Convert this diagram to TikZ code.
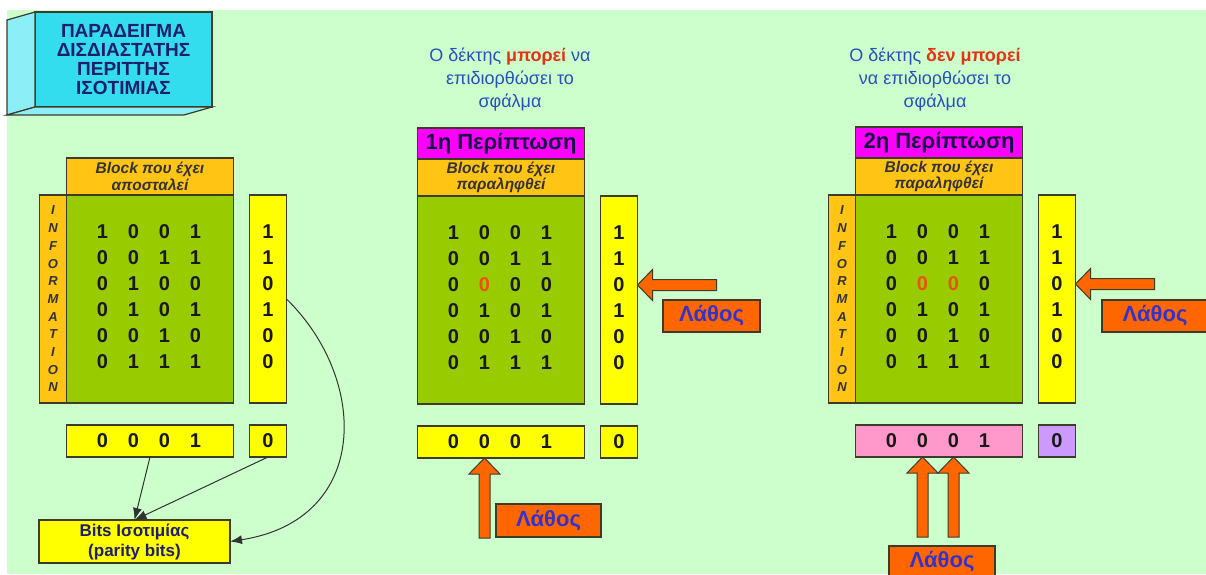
\documentclass[tikz,border=0pt]{standalone}
\usepackage{fontspec}
\setmainfont{Liberation Sans}
\usetikzlibrary{positioning,arrows.meta}

% colours
\definecolor{bggreen}{RGB}{204,255,204}
\definecolor{cubefront}{RGB}{51,221,238}
\definecolor{cubeside}{RGB}{140,238,246}
\definecolor{hdrorange}{RGB}{255,196,20}
\definecolor{gridgreen}{RGB}{153,204,0}
\definecolor{paryellow}{RGB}{255,255,0}
\definecolor{casemag}{RGB}{255,0,255}
\definecolor{errorange}{RGB}{255,102,0}
\definecolor{errblue}{RGB}{51,51,204}
\definecolor{msgblue}{RGB}{40,80,190}
\definecolor{msgred}{RGB}{230,50,20}
\definecolor{badbit}{RGB}{235,80,20}
\definecolor{rowpink}{RGB}{255,153,204}
\definecolor{cornlav}{RGB}{204,153,255}
\definecolor{edge}{RGB}{60,60,40}
\definecolor{navy}{RGB}{30,30,110}
\definecolor{ink}{RGB}{25,25,25}

\newcommand{\flip}[1]{\textcolor{badbit}{#1}}

\tikzset{
  box/.style={draw=edge,line width=1.2pt,outer sep=0pt,inner sep=0pt},
  blockhdr/.style={box,fill=hdrorange,minimum width=167pt,minimum height=37pt,
    align=center,text=black!80,font=\bfseries\itshape\fontsize{15.5}{16.5}\selectfont},
  casehdr/.style={box,fill=casemag,minimum width=167pt,minimum height=31pt,
    text=navy!60!black,font=\bfseries\fontsize{22}{24}\selectfont},
  bitgrid/.style={box,fill=gridgreen,minimum width=167pt,minimum height=208pt},
  parcol/.style={box,fill=paryellow,minimum width=37pt,minimum height=208pt},
  inforbar/.style={box,fill=hdrorange,minimum width=27pt,minimum height=208pt,
    align=center,text=black!80,font=\bfseries\itshape\fontsize{13}{17.7}\selectfont},
  parrow/.style={box,fill=paryellow,minimum width=167pt,minimum height=32pt},
  parbit/.style={box,fill=paryellow,minimum width=37pt,minimum height=32pt,
    text=ink,font=\bfseries\fontsize{20}{20}\selectfont},
  digit/.style={inner sep=0pt,text=ink,font=\bfseries\fontsize{20}{20}\selectfont},
  errbox/.style={box,fill=errorange,minimum width=97pt,minimum height=32pt,
    text=errblue,font=\bfseries\fontsize{22}{24}\selectfont},
  blockarrow/.style={draw=edge,line width=1pt,fill=errorange},
  message/.style={align=center,text=msgblue,font=\fontsize{18}{23}\selectfont},
  link/.style={draw=black!80,line width=1pt,->}
}

\begin{document}
\begin{tikzpicture}[x=1pt,y=-1pt,>={Latex[length=12pt,width=9pt]}]
\useasboundingbox (0,0) rectangle (1206,574);
\fill[white] (0,0) rectangle (1206,574);
\fill[bggreen] (7,10) rectangle (1206,574);

% title cube
\node[box,fill=cubefront,minimum width=177pt,minimum height=95pt,align=center,
  text=navy,font=\bfseries\fontsize{19}{19}\selectfont] (title) at (123.5,59.5)
  {ΠΑΡΑΔΕΙΓΜΑ\\ΔΙΣΔΙΑΣΤΑΤΗΣ\\ΠΕΡΙΤΤΗΣ\\ΙΣΟΤΙΜΙΑΣ};
\draw[box,fill=cubeside] (title.north west) -- ++(-28,8) -- ++(0,95) -- (title.south west) -- cycle;
\draw[box,fill=cubeside] (title.south west) -- ++(-28,8) -- ++(177,0) -- (title.south east) -- cycle;

% sent block
\node[bitgrid] (gridA) at (150,299) {};
\node[blockhdr,above=0pt of gridA] (hdrA) {Block που έχει\\αποσταλεί};
\node[inforbar,left=0pt of gridA] (infoA) {I\\N\\F\\O\\R\\M\\A\\T\\I\\O\\N};
\node[parcol,right=16pt of gridA] (parA) {};
\node[parrow,below=22pt of gridA] (rowA) {};
\node[parbit,below=22pt of parA] (cornerA) {0};
\node[box,fill=paryellow,minimum width=191pt,minimum height=43pt,align=center,
  text=navy,font=\bfseries\fontsize{17}{20}\selectfont] (bitsA) at (134.5,541.5)
  {Bits Ισοτιμίας\\(parity bits)};

% case 1
\node[message] (msgB) at (510,80)
  {Ο δέκτης \textcolor{msgred}{\textbf{μπορεί}} να\\επιδιορθώσει το\\σφάλμα};
\node[bitgrid] (gridB) at (501,300) {};
\node[blockhdr,above=0pt of gridB] (hdrB) {Block που έχει\\παραληφθεί};
\node[casehdr,above=0pt of hdrB] (caseB) {1η Περίπτωση};
\node[parcol,right=16pt of gridB] (parB) {};
\node[parrow,below=22pt of gridB] (rowB) {};
\node[parbit,below=22pt of parB] (cornerB) {0};

% case 2
\node[message] (msgC) at (935,80)
  {Ο δέκτης \textcolor{msgred}{\textbf{δεν μπορεί}}\\να επιδιορθώσει το\\σφάλμα};
\node[bitgrid] (gridC) at (939,299) {};
\node[blockhdr,above=0pt of gridC] (hdrC) {Block που έχει\\παραληφθεί};
\node[casehdr,above=0pt of hdrC] (caseC) {2η Περίπτωση};
\node[inforbar,left=0pt of gridC] (infoC) {I\\N\\F\\O\\R\\M\\A\\T\\I\\O\\N};
\node[parcol,right=16pt of gridC] (parC) {};
\node[parrow,fill=rowpink,below=22pt of gridC] (rowC) {};
\node[parbit,fill=cornlav,below=22pt of parC] (cornerC) {0};

% the bits
\foreach \row [count=\r] in {{1,0,0,1},{0,0,1,1},{0,1,0,0},{0,1,0,1},{0,0,1,0},{0,1,1,1}}
  \foreach \b [count=\c] in \row
    \node[digit] (a-\r-\c) at ([shift={(36+31*\c-31,37+26*\r-26)}]gridA.north west) {\b};
\foreach \row [count=\r] in {{1,0,0,1},{0,0,1,1},{0,\flip{0},0,0},{0,1,0,1},{0,0,1,0},{0,1,1,1}}
  \foreach \b [count=\c] in \row
    \node[digit] (b-\r-\c) at ([shift={(36+31*\c-31,37+26*\r-26)}]gridB.north west) {\b};
\foreach \row [count=\r] in {{1,0,0,1},{0,0,1,1},{0,\flip{0},\flip{0},0},{0,1,0,1},{0,0,1,0},{0,1,1,1}}
  \foreach \b [count=\c] in \row
    \node[digit] (c-\r-\c) at ([shift={(36+31*\c-31,37+26*\r-26)}]gridC.north west) {\b};

\foreach \p in {A,B,C} {
  \foreach \b [count=\r] in {1,1,0,1,0,0}
    \node[digit] (p\p-\r) at ([shift={(0,37+26*\r-26)}]par\p.north) {\b};
  \foreach \b [count=\c] in {0,0,0,1}
    \node[digit] (r\p-\c) at ([shift={(36+31*\c-31,0)}]row\p.west) {\b};
}

% parity links
\draw[link] (rowA.south) -- (bitsA.north);
\draw[link] (cornerA.south) -- (bitsA.north);
\draw[link] (parA.east) .. controls +(83,81) and +(140,-21.5) .. (bitsA.east);

% errors
\node[errbox] (errB) at (711.5,316) {Λάθος};
\node[errbox,minimum width=105pt,minimum height=33pt] (errB2) at (548.5,520.5) {Λάθος};
\node[errbox,minimum width=106pt] (errC) at (1155,316) {Λάθος};
\node[errbox,minimum width=106pt] (errC2) at (942,562) {Λάθος};

\draw[blockarrow] (parB.east |- pB-3) -- ++(15,-15.5) -- ++(0,10) -- ++(64,0)
  -- ++(0,11) -- ++(-64,0) -- ++(0,10) -- cycle;
\draw[blockarrow] (parC.east |- pC-3) -- ++(15,-15.5) -- ++(0,10) -- ++(64,0)
  -- ++(0,11) -- ++(-64,0) -- ++(0,10) -- cycle;
\draw[blockarrow] (rB-2 |- rowB.south) -- ++(15.5,16) -- ++(-10,0) -- ++(0,64)
  -- ++(-11,0) -- ++(0,-64) -- ++(-10,0) -- cycle;
\foreach \k in {2,3}
  \draw[blockarrow] (rC-\k |- rowC.south) -- ++(15.5,16) -- ++(-10,0) -- ++(0,64)
    -- ++(-11,0) -- ++(0,-64) -- ++(-10,0) -- cycle;
\end{tikzpicture}
\end{document}
